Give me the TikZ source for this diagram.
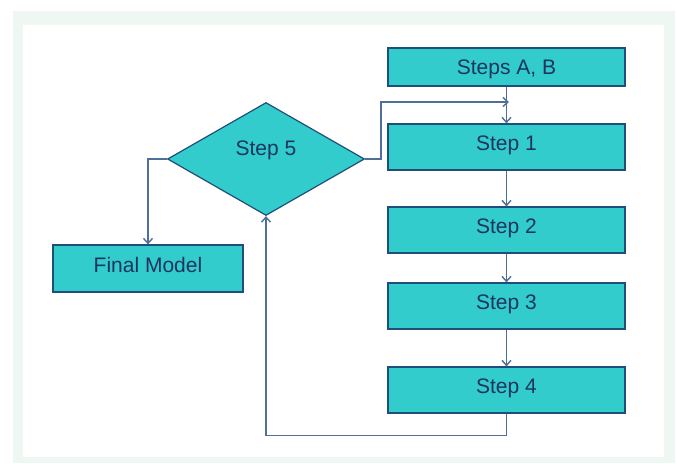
\documentclass[tikz,border=0pt]{standalone}
\usepackage{fontspec}
\setmainfont{Liberation Sans}
\usetikzlibrary{shapes.geometric,arrows.meta}
\definecolor{StepFill}{HTML}{33CCCC}
\definecolor{StepLine}{HTML}{1F4E79}
\definecolor{StepText}{HTML}{1A3560}
\definecolor{FlowLine}{HTML}{4F6F9A}
\definecolor{FrameGreen}{HTML}{EEF7F2}

\begin{document}
\begin{tikzpicture}[
        x=1pt, y=-1pt,
        every node/.style={font=\fontsize{21}{25}\selectfont, text=StepText},
        stepbox/.style={rectangle, draw=StepLine, line width=1.2pt, fill=StepFill, minimum width=237pt, minimum height=46pt, inner sep=0pt, text height=15pt, text depth=8pt},
        decision/.style={diamond, draw=StepLine, line width=1.2pt, fill=StepFill, minimum width=197pt, minimum height=113pt, inner sep=0pt, text height=15pt, text depth=22pt},
        flow/.style={draw=FlowLine, line width=1.4pt, -{Straight Barb[length=5pt,width=9pt]}}]
        \useasboundingbox (0,0) rectangle (677,463);
        \fill[FrameGreen] (13,11) rectangle (675,463);
        \fill[white] (23,25) rectangle (664,457);
        % boxes
        \node[stepbox, minimum height=38pt, text depth=0pt] (ab) at (506.5,67) {Steps A, B};
        \node[stepbox] (s1) at (506.5,147) {Step 1};
        \node[stepbox] (s2) at (506.5,230) {Step 2};
        \node[stepbox] (s3) at (506.5,306) {Step 3};
        \node[stepbox] (s4) at (506.5,390) {Step 4};
        \node[decision] (s5) at (266,159) {Step 5};
        \node[stepbox, minimum width=190pt, minimum height=47pt] (fm) at (148,268.5) {Final Model};
        \coordinate (loopin) at (509,102);
        % connectors
        \draw[flow] (ab) -- (s1);
        \draw[flow] (s1) -- (s2);
        \draw[flow] (s2) -- (s3);
        \draw[flow] (s3) -- (s4);
        \draw[flow] (s5.east) -- ++(16,0) |- (loopin);
        \draw[flow] (s4.south) -- ++(0,22) -| (s5.south);
        \draw[flow] (s5.west) -| (fm.north);
    \end{tikzpicture}
\end{document}
